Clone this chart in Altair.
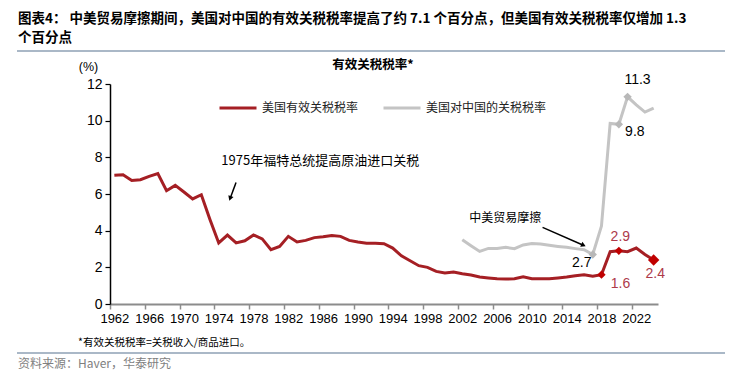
import altair as alt
import pandas as pd

# ---------------- data ----------------
SERIES_US = "美国有效关税税率"
SERIES_CN = "美国对中国的关税税率"

years_us = list(range(1962, 2025))
us_rate = [7.02, 7.05, 6.74, 6.78, 6.96, 7.11, 6.18, 6.47, 6.11, 5.73,
           5.96, 4.60, 3.33, 3.76, 3.33, 3.45, 3.77, 3.55, 2.96, 3.14,
           3.69, 3.38, 3.47, 3.62, 3.67, 3.74, 3.69, 3.47, 3.38, 3.31,
           3.31, 3.29, 3.05, 2.63, 2.36, 2.09, 2.00, 1.78, 1.69, 1.74,
           1.65, 1.58, 1.47, 1.42, 1.38, 1.36, 1.38, 1.49, 1.38, 1.38,
           1.38, 1.42, 1.47, 1.54, 1.60, 1.52, 1.60, 2.85, 2.90, 2.85,
           3.05, 2.70, 2.40]

years_cn = list(range(2002, 2025))
cn_rate = [3.50, 3.18, 2.87, 3.03, 3.03, 3.09, 3.02, 3.22, 3.30, 3.27,
           3.20, 3.14, 3.09, 3.02, 2.96, 2.70, 4.25, 9.85, 9.80, 11.30,
           10.86, 10.47, 10.69]

us_marker_years = [2018, 2020]
us_big_marker_years = [2024]
cn_marker_years = [2017, 2020, 2021]

x_tick_labels = list(range(1962, 2025, 4))
y_ticks = [0, 2, 4, 6, 8, 10, 12]

title_line1 = "图表4： 中美贸易摩擦期间，美国对中国的有效关税税率提高了约 7.1 个百分点，但美国有效关税税率仅增加 1.3"
title_line2 = "个百分点"
chart_subtitle = "有效关税税率*"
unit_text = "(%)"
note_1975 = "1975年福特总统提高原油进口关税"
note_trade = "中美贸易摩擦"
footnote = "*有效关税税率=关税收入/商品进口。"
source = "资料来源：Haver，华泰研究"

# ---------------- frames ----------------
df_us = pd.DataFrame({"year": years_us, "value": us_rate, "series": SERIES_US})
df_cn = pd.DataFrame({"year": years_cn, "value": cn_rate, "series": SERIES_CN})
df_all = pd.concat([df_us, df_cn], ignore_index=True)
dummy = pd.DataFrame({"d": [0]})

RED = "#A51F24"
RED_MARK = "#C00000"
RED_LABEL = "#AD3A4A"
GRAY = "#C4C4C4"
GRAY_MARK = "#B8B8B8"
CJK = "Noto Sans CJK SC"
LAT = "Liberation Sans"

px_per_year = 548 / 63.0

X = alt.X("year:Q",
          scale=alt.Scale(domain=[1961.5, 2024.5], nice=False, zero=False),
          axis=alt.Axis(values=x_tick_labels, tickCount=40, format="d", title=None,
                        grid=False, domainColor="#8c8c8c", domainWidth=2,
                        tickColor="#8c8c8c", tickWidth=1.5, tickSize=5,
                        tickOffset=-px_per_year / 2, labelOffset=px_per_year / 2,
                        labelFont=LAT, labelFontSize=13, labelColor="#000",
                        labelPadding=3, labelFlush=False, labelOverlap=False))
Y = alt.Y("value:Q",
          scale=alt.Scale(domain=[0, 12], nice=False),
          axis=alt.Axis(values=y_ticks, tickCount=20, format="d", title=None,
                        grid=False, domainColor="#000", domainWidth=1.5,
                        tickColor="#000", tickWidth=1.2, tickSize=5,
                        labelFont=LAT, labelFontSize=14, labelColor="#000",
                        labelPadding=3, labelOverlap=False))

lines = alt.Chart(df_all).mark_line(strokeWidth=3).encode(
    x=X, y=Y,
    color=alt.Color("series:N",
                    scale=alt.Scale(domain=[SERIES_US, SERIES_CN], range=[RED, GRAY]),
                    legend=alt.Legend(orient="none", legendX=108, legendY=4,
                                      direction="horizontal", title=None,
                                      symbolType="stroke", symbolSize=1369,
                                      symbolStrokeWidth=3,
                                      labelFont=CJK, labelFontSize=12,
                                      labelColor="#222", columnPadding=18,
                                      labelOffset=4, padding=0)),
)

mk_us = alt.Chart(df_us[df_us.year.isin(us_marker_years)]).mark_point(
    shape="diamond", filled=True, size=70, color=RED_MARK, opacity=1
).encode(x=X, y=Y)
mk_us_big = alt.Chart(df_us[df_us.year.isin(us_big_marker_years)]).mark_point(
    shape="diamond", filled=True, size=130, color=RED_MARK, opacity=1
).encode(x=X, y=Y)
mk_cn = alt.Chart(df_cn[df_cn.year.isin(cn_marker_years)]).mark_point(
    shape="diamond", filled=True, size=70, color=GRAY_MARK, opacity=1
).encode(x=X, y=Y)


def value_label(df, yr, dx, dy, color):
    return alt.Chart(df[df.year == yr]).mark_text(
        dx=dx, dy=dy, font=LAT, fontSize=14, color=color, align="center",
        baseline="middle"
    ).encode(x=X, y=Y, text=alt.Text("value:Q", format=".1f"))


labels = [
    value_label(df_cn, 2021, 10, -17, "#000"),
    value_label(df_cn, 2020, 16, 8, "#000"),
    value_label(df_cn, 2017, -11, 8, "#000"),
    value_label(df_us, 2020, 1.5, -13.5, RED_LABEL),
    value_label(df_us, 2018, 19, 9, RED_LABEL),
    value_label(df_us, 2024, 1.6, 13.7, RED_LABEL),
]

# annotations (data coordinates)
ann_1975 = alt.Chart(dummy).mark_text(
    align="left", baseline="middle", font=CJK, fontSize=13, color="#000"
).encode(x=alt.datum(1974.3), y=alt.datum(7.82), text=alt.value(note_1975))
arrow1 = alt.Chart(dummy).mark_rule(color="#000", strokeWidth=1.5).encode(
    x=alt.datum(1975.99), y=alt.datum(6.63), x2=alt.datum(1975.34), y2=alt.datum(5.80))
head1 = alt.Chart(dummy).mark_point(
    shape="triangle", filled=True, size=30, color="#000", angle=200, opacity=1
).encode(x=alt.datum(1975.34), y=alt.datum(5.80))

ann_trade = alt.Chart(dummy).mark_text(
    align="left", baseline="middle", font=CJK, fontSize=12, color="#000"
).encode(x=alt.datum(2002.8), y=alt.datum(4.71), text=alt.value(note_trade))
arrow2 = alt.Chart(dummy).mark_rule(color="#000", strokeWidth=1.5).encode(
    x=alt.datum(2011.23), y=alt.datum(4.18), x2=alt.datum(2015.85), y2=alt.datum(3.22))
head2 = alt.Chart(dummy).mark_point(
    shape="triangle", filled=True, size=30, color="#000", angle=114, opacity=1
).encode(x=alt.datum(2015.85), y=alt.datum(3.22))


# static page texts (pixel positions relative to plot origin)
def static_text(txt, x, y, size, weight="normal", color="#000", align="left", font=CJK):
    return alt.Chart(dummy).mark_text(
        align=align, baseline="middle", font=font, fontSize=size,
        fontWeight=weight, color=color
    ).encode(x=alt.value(x), y=alt.value(y), text=alt.value(txt))


def static_rule(x1, x2, y, color="#8EA0B5", width=1.5):
    return alt.Chart(dummy).mark_rule(color=color, strokeWidth=width).encode(
        x=alt.value(x1), x2=alt.value(x2), y=alt.value(y))


statics = [
    static_text(title_line1, -92, -65.5, 13.5, "bold"),
    static_text(title_line2, -92, -46, 13.5, "bold"),
    static_rule(-93, 615, -33),
    static_text(chart_subtitle, 263, -19, 12.5, "bold", align="center"),
    static_text(unit_text, -21.5, -17, 12.5, align="center", font=LAT),
    static_text(footnote, -32, 259, 10.5),
    static_rule(-93, 615, 269),
    static_text(source, -92, 280, 12, color="#7f7f7f"),
]

chart = alt.layer(
    lines, mk_us, mk_us_big, mk_cn, *labels,
    ann_1975, arrow1, head1, ann_trade, arrow2, head2, *statics
).properties(
    width=548, height=220,
    autosize=alt.AutoSizeParams(type="none"),
    padding={"left": 102, "top": 76, "right": 73, "bottom": 75},
    background="white",
).configure_view(stroke=None)

chart.save("out.html", embed_options={"renderer": "svg", "actions": False})
